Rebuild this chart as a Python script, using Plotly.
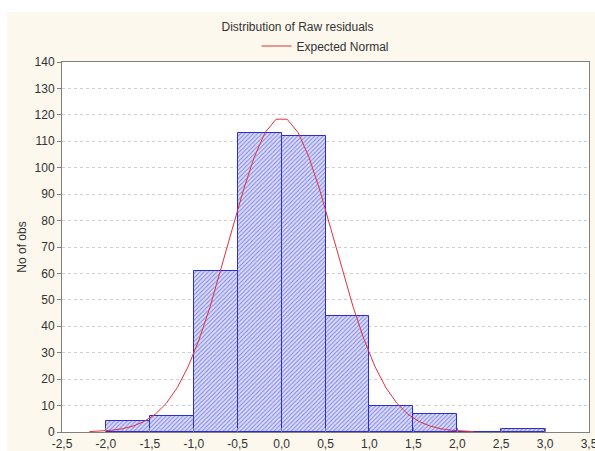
import plotly.graph_objects as go

# Histogram bins (centers) and counts
bin_centers = [-1.75, -1.25, -0.75, -0.25, 0.25, 0.75, 1.25, 1.75, 2.25, 2.75]
counts = [4, 6, 61, 113, 112, 44, 10, 7, 0, 1]

# Expected normal curve points
curve_x = [-2.1875, -2.0625, -1.9375, -1.8125, -1.6875, -1.5625, -1.4375, -1.3125, -1.1875,
           -1.0625, -0.9375, -0.8125, -0.6875, -0.5625, -0.4375, -0.3125, -0.1875, -0.0625,
           0.0625, 0.1875, 0.3125, 0.4375, 0.5625, 0.6875, 0.8125, 0.9375, 1.0625,
           1.1875, 1.3125, 1.4375, 1.5625, 1.6875, 1.8125, 1.9375, 2.0625, 2.1875]
curve_y = [0.15, 0.32, 0.65, 1.24, 2.28, 4.01, 6.75, 10.88, 16.78,
           24.81, 35.11, 47.57, 61.73, 76.68, 91.22, 103.91, 113.33, 118.36,
           118.36, 113.33, 103.91, 91.22, 76.68, 61.73, 47.57, 35.11, 24.81,
           16.78, 10.88, 6.75, 4.01, 2.28, 1.24, 0.65, 0.32, 0.15]

x_tickvals = [-2.5, -2.0, -1.5, -1.0, -0.5, 0.0, 0.5, 1.0, 1.5, 2.0, 2.5, 3.0, 3.5]
x_ticktext = ["-2,5", "-2,0", "-1,5", "-1,0", "-0,5", "0,0", "0,5", "1,0", "1,5", "2,0", "2,5", "3,0", "3,5"]

fig = go.Figure()
fig.add_trace(go.Bar(
    x=bin_centers, y=counts, width=0.5, showlegend=False,
    marker=dict(color="#d4d6f6",
                line=dict(color="#2a2ae0", width=1),
                pattern=dict(shape="/", size=3, solidity=0.3,
                             fgcolor="#7a7ee2", bgcolor="#dadcf8", fillmode="replace")),
))
fig.add_trace(go.Scatter(
    x=curve_x, y=curve_y, mode="lines", name="Expected Normal",
    line=dict(color="#e0303a", width=1),
))

font = "Liberation Sans, Arial, sans-serif"
fig.update_layout(
    width=595, height=451,
    margin=dict(l=62, r=6, t=62, b=19),
    paper_bgcolor="#fcf8ed",
    plot_bgcolor="white",
    bargap=0,
    font=dict(family=font, size=12, color="#333333"),
    title=dict(text="Distribution of Raw residuals", x=0.5, xanchor="center",
               y=1 - 27 / 451, yanchor="middle", font=dict(size=12, color="#333333")),
    legend=dict(orientation="h", x=0.5, xanchor="center", y=(432 - 46) / 370, yanchor="middle",
                bgcolor="rgba(0,0,0,0)", font=dict(size=12, color="#333333")),
    showlegend=True,
    xaxis=dict(range=[-2.5, 3.5], tickvals=x_tickvals, ticktext=x_ticktext,
               showgrid=False, zeroline=False, showline=True, linecolor="#808080",
               mirror=True, ticks="inside", ticklen=4, tickcolor="#808080",
               ticklabeloverflow="allow", ticklabelstandoff=1, automargin=False,
               tickfont=dict(size=12, color="#333333")),
    yaxis=dict(range=[0, 140], dtick=10, showgrid=True, gridcolor="#d0d0d0",
               griddash="dot", zeroline=False, showline=True, linecolor="#808080",
               mirror=True, ticks="outside", ticklen=4, tickcolor="#808080", automargin=False,
               title=dict(text="No of obs", standoff=5, font=dict(size=12, color="#333333")),
               tickfont=dict(size=12, color="#333333")),
    shapes=[
        dict(type="rect", xref="paper", yref="paper", x0=-0.2, x1=1.05,
             y0=(432 - 12) / 370, y1=1.3, fillcolor="white", line=dict(width=0), layer="above"),
        dict(type="rect", xref="paper", yref="paper", x0=-0.2, x1=(7 - 62) / 527,
             y0=-0.2, y1=1.3, fillcolor="white", line=dict(width=0), layer="above"),
    ],
)

fig.write_html("out.html")
